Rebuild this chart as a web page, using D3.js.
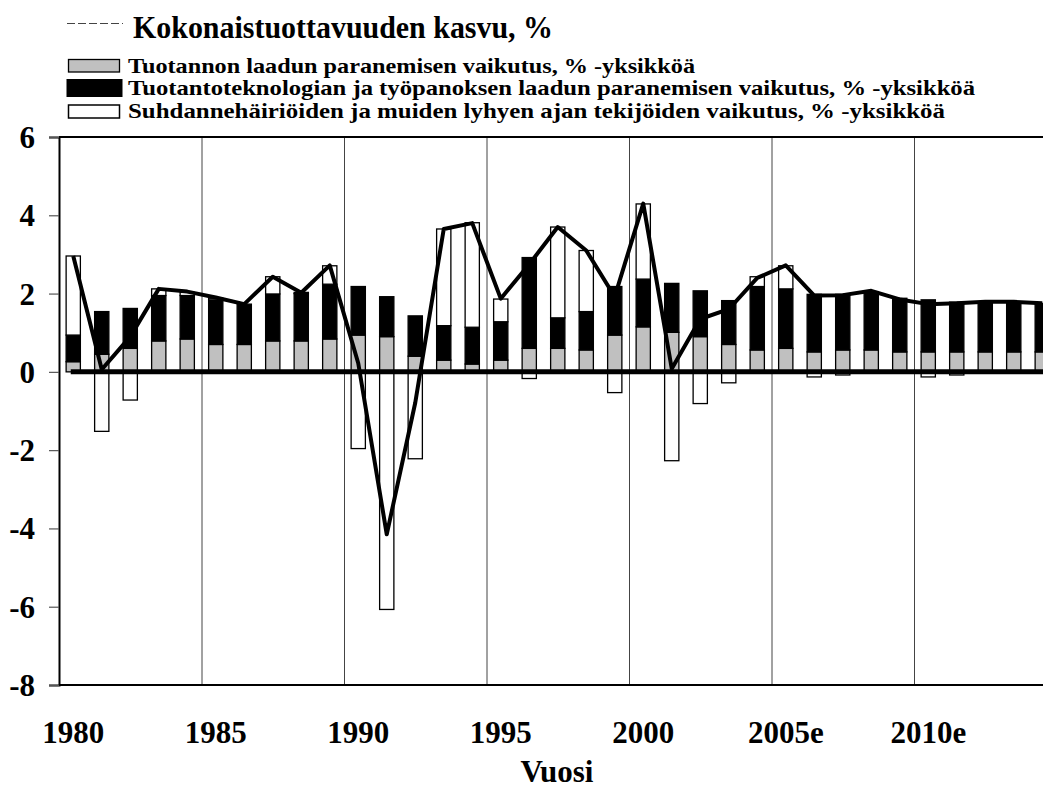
<!DOCTYPE html>
<html>
<head>
<meta charset="utf-8">
<script src="https://cdn.jsdelivr.net/npm/d3@7"></script>
<style>
  html, body { margin: 0; padding: 0; background: #fff; }
  svg { display: block; }
  text { font-family: "Liberation Serif", "Times New Roman", Times, serif; font-weight: bold; fill: #000; }
</style>
</head>
<body>
<svg id="chart" width="1043" height="789"></svg>
<script>
// ---- data ----
const years = d3.range(1980, 2015);
const tickYears = [1980, 1985, 1990, 1995, 2000, 2005, 2010];
const tickLabels = ["1980", "1985", "1990", "1995", "2000", "2005e", "2010e"];
const yTicks = [-8, -6, -4, -2, 0, 2, 4, 6];

// Tuotannon laadun paranemisen vaikutus
const quality = [0.26, 0.45, 0.60, 0.79, 0.84, 0.70, 0.70, 0.79, 0.79, 0.84,
                 0.94, 0.90, 0.40, 0.30, 0.20, 0.30, 0.60, 0.60, 0.56, 0.94,
                 1.15, 1.01, 0.90, 0.70, 0.56, 0.60, 0.51, 0.56, 0.56, 0.51,
                 0.51, 0.51, 0.51, 0.51, 0.51];
// Tuotantoteknologian ja työpanoksen laadun paranemisen vaikutus
const technology = [0.68, 1.09, 1.02, 1.16, 1.11, 1.14, 1.03, 1.20, 1.21, 1.40,
                    1.24, 1.02, 1.03, 0.88, 0.94, 0.98, 2.32, 0.78, 0.98, 1.24,
                    1.22, 1.25, 1.17, 1.12, 1.62, 1.52, 1.47, 1.42, 1.49, 1.37,
                    1.33, 1.27, 1.27, 1.27, 1.24];
// Suhdannehäiriöiden ja muiden lyhyen ajan tekijöiden vaikutus
const cyclical = [2.02, -1.52, -0.72, 0.17, 0.08, 0.04, 0.00, 0.44, 0.03, 0.47,
                  -1.96, -6.07, -2.22, 2.47, 2.67, 0.58, -0.17, 2.32, 1.56, -0.53,
                  1.92, -2.27, -0.81, -0.28, 0.25, 0.59, -0.13, -0.08, 0.00, 0.00,
                  -0.13, -0.08, 0.00, 0.00, 0.00];
// Kokonaistuottavuuden kasvu, %
const total = [2.96, 0.06, 0.90, 2.12, 2.05, 1.90, 1.73, 2.43, 2.02, 2.72,
               0.22, -4.15, -0.79, 3.65, 3.80, 1.87, 2.75, 3.70, 3.10, 1.92,
               4.30, 0.08, 1.35, 1.60, 2.40, 2.72, 1.95, 1.96, 2.07, 1.85,
               1.73, 1.75, 1.79, 1.79, 1.75];

const legendLine = "Kokonaistuottavuuden kasvu, %";
const legendBars = [
  "Tuotannon laadun paranemisen vaikutus, % -yksikköä",
  "Tuotantoteknologian ja työpanoksen laadun paranemisen vaikutus, % -yksikköä",
  "Suhdannehäiriöiden ja muiden lyhyen ajan tekijöiden vaikutus, % -yksikköä"
];
const xTitle = "Vuosi";

// ---- layout ----
const svg = d3.select("#chart");
const plotLeft = 59, plotTop = 137, plotBottom = 685;
const step = 28.5;
const plotRight = plotLeft + years.length * step;

const x = d3.scaleBand().domain(years).range([plotLeft, plotRight]).paddingInner(0.5).paddingOuter(0.25);
const y = d3.scaleLinear().domain([-8, 6]).range([plotBottom, plotTop]);

const rows = years.map((yr, i) => {
  const g = quality[i], b = technology[i], w = cyclical[i];
  const segs = [
    { y0: 0, y1: g, fill: "#c0c0c0" },
    { y0: g, y1: g + b, fill: "#000" }
  ];
  if (w >= 0) segs.push({ y0: g + b, y1: g + b + w, fill: "#fff" });
  else segs.push({ y0: 0, y1: w, fill: "#fff" });
  return { yr, segs };
});

// gridlines at category boundaries every five years
svg.append("g").selectAll("line").data(tickYears.slice(1)).join("line")
  .attr("x1", d => x(d) - x.step() * 0.25 + 0.5)
  .attr("x2", d => x(d) - x.step() * 0.25 + 0.5)
  .attr("y1", plotTop).attr("y2", plotBottom)
  .attr("stroke", "#444").attr("stroke-width", 1);

// bars
const barG = svg.append("g");
rows.forEach(r => {
  barG.selectAll(null).data(r.segs.filter(s => s.y1 !== s.y0)).join("rect")
    .attr("x", x(r.yr))
    .attr("width", x.bandwidth())
    .attr("y", s => y(Math.max(s.y0, s.y1)))
    .attr("height", s => Math.abs(y(s.y0) - y(s.y1)))
    .attr("fill", s => s.fill)
    .attr("stroke", "#000")
    .attr("stroke-width", 1.3);
});

// frame: top and bottom
svg.append("line").attr("x1", plotLeft).attr("x2", 1043).attr("y1", plotTop).attr("y2", plotTop)
  .attr("stroke", "#000").attr("stroke-width", 2);
svg.append("line").attr("x1", plotLeft).attr("x2", 1043).attr("y1", plotBottom).attr("y2", plotBottom)
  .attr("stroke", "#000").attr("stroke-width", 2);

// y axis
const yAxis = svg.append("g").attr("transform", `translate(${plotLeft},0)`)
  .call(d3.axisLeft(y).tickValues(yTicks).tickSize(10).tickPadding(14).tickFormat(d => String(d)));
yAxis.attr("font-family", null).attr("font-size", null);
yAxis.select(".domain").attr("stroke", "#000").attr("stroke-width", 2);
yAxis.selectAll(".tick line").attr("stroke", "#555").attr("stroke-width", 1.2);
yAxis.selectAll(".tick text").attr("font-size", 31).attr("dy", "0.34em").attr("fill", "#000");

// x axis labels
const xAxis = svg.append("g").attr("transform", `translate(0,${plotBottom})`)
  .call(d3.axisBottom(x).tickValues(tickYears).tickSize(0).tickPadding(0)
    .tickFormat((d) => tickLabels[tickYears.indexOf(d)]));
xAxis.select(".domain").remove();
xAxis.attr("font-family", null).attr("font-size", null);
xAxis.selectAll(".tick text").attr("font-size", 31).attr("y", 58).attr("dy", 0).attr("fill", "#000");

svg.append("text").attr("x", 557).attr("y", 782).attr("text-anchor", "middle")
  .attr("font-size", 31).text(xTitle);

// zero line
svg.append("line")
  .attr("x1", x(years[0]) + x.bandwidth() / 2).attr("x2", x(years[years.length - 1]) + x.bandwidth() / 2)
  .attr("y1", y(0)).attr("y2", y(0))
  .attr("stroke", "#000").attr("stroke-width", 5).attr("stroke-linecap", "square");

// total line
const line = d3.line().x((d, i) => x(years[i]) + x.bandwidth() / 2).y(d => y(d));
svg.append("path").datum(total).attr("d", line)
  .attr("fill", "none").attr("stroke", "#000").attr("stroke-width", 4)
  .attr("stroke-linejoin", "round");

// legend
svg.append("line").attr("x1", 67).attr("x2", 123).attr("y1", 23.5).attr("y2", 23.5)
  .attr("stroke", "#444").attr("stroke-width", 1).attr("stroke-dasharray", "8,3");
svg.append("text").attr("x", 133).attr("y", 38).attr("font-size", 32)
  .attr("textLength", 420).attr("lengthAdjust", "spacingAndGlyphs").text(legendLine);

const swatches = [
  { x: 68.5, y: 59.5, w: 51, h: 12.5, fill: "#c0c0c0", sw: 1.3 },
  { x: 67, y: 79.5, w: 55, h: 17, fill: "#000", sw: 1 },
  { x: 68.5, y: 105, w: 51, h: 13, fill: "#fff", sw: 1.5 }
];
const legTextY = [72.5, 95, 117.5];
const legTextW = [567, 847, 817];
svg.append("g").selectAll("rect").data(swatches).join("rect")
  .attr("x", d => d.x).attr("y", d => d.y).attr("width", d => d.w).attr("height", d => d.h)
  .attr("fill", d => d.fill).attr("stroke", "#000").attr("stroke-width", d => d.sw);
svg.append("g").selectAll("text").data(legendBars).join("text")
  .attr("x", 128).attr("y", (d, i) => legTextY[i]).attr("font-size", 21)
  .attr("textLength", (d, i) => legTextW[i]).attr("lengthAdjust", "spacingAndGlyphs")
  .text(d => d);
</script>
</body>
</html>
